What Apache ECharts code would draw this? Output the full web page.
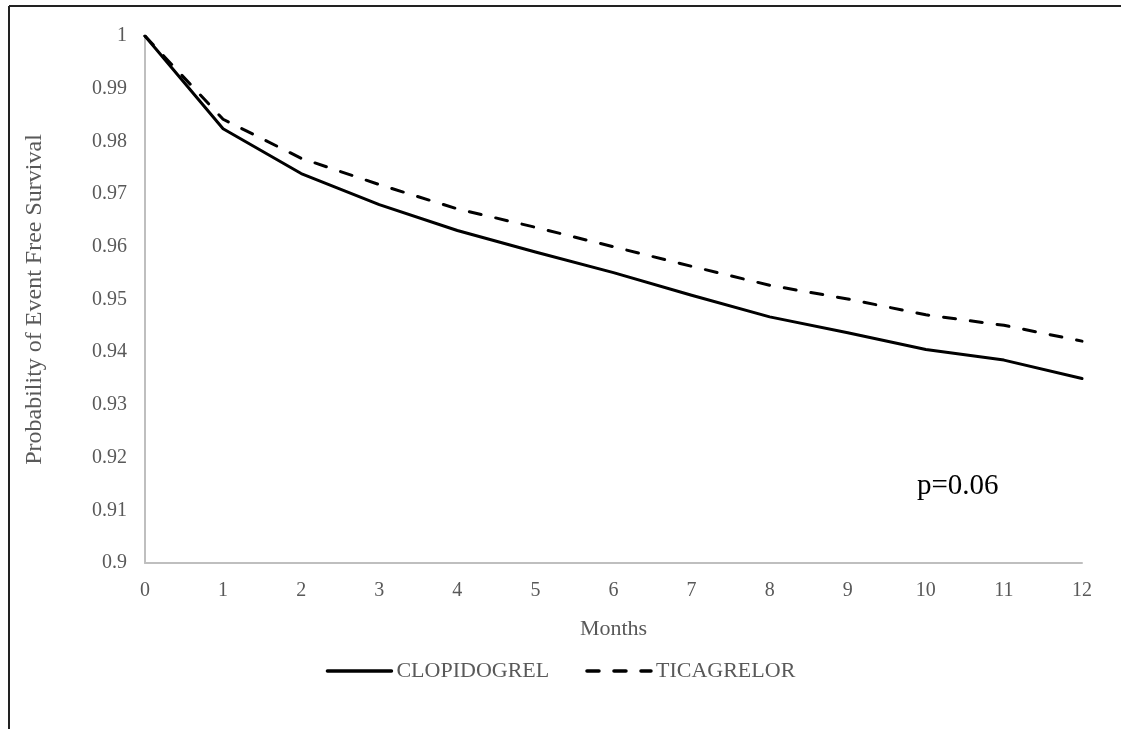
<!DOCTYPE html>
<html>
<head>
<meta charset="utf-8">
<script src="https://cdn.jsdelivr.net/npm/echarts@6/dist/echarts.min.js"></script>
<style>
html,body{margin:0;padding:0;background:#fff;}
#chart{width:1121px;height:729px;}
</style>
</head>
<body>
<div id="chart"></div>
<script>
const months = ['0','1','2','3','4','5','6','7','8','9','10','11','12'];
const clopidogrel = [1.0, 0.9824, 0.9739, 0.9680, 0.9631, 0.9590, 0.9551, 0.9508, 0.9467, 0.9437, 0.9405, 0.9385, 0.9350];
const ticagrelor  = [1.0, 0.9842, 0.9768, 0.9718, 0.9672, 0.9637, 0.9600, 0.9563, 0.9527, 0.9501, 0.9471, 0.9451, 0.9421];
const yTicks = {min: 0.9, max: 1.0, interval: 0.01};
const pText = 'p=0.06';

const font = '"Liberation Serif", "Times New Roman", serif';
const chart = echarts.init(document.getElementById('chart'), null, {renderer: 'canvas'});
chart.setOption({
  backgroundColor: '#fff',
  animation: false,
  grid: {left: 145, right: 39, top: 36, bottom: 166, containLabel: false},
  xAxis: {
    type: 'category',
    data: months,
    boundaryGap: false,
    name: 'Months',
    nameLocation: 'middle',
    nameGap: 55,
    nameTextStyle: {fontFamily: font, fontSize: 22, color: '#595959'},
    axisLine: {lineStyle: {color: '#bfbfbf', width: 2}},
    axisTick: {show: false},
    axisLabel: {fontFamily: font, fontSize: 20, color: '#595959', margin: 18},
    splitLine: {show: false}
  },
  yAxis: {
    type: 'value',
    min: yTicks.min, max: yTicks.max, interval: yTicks.interval,
    name: 'Probability of Event Free Survival',
    nameLocation: 'middle',
    nameGap: 98,
    nameTextStyle: {fontFamily: font, fontSize: 24, color: '#595959'},
    axisLine: {show: true, lineStyle: {color: '#bfbfbf', width: 2}},
    axisTick: {show: false},
    axisLabel: {fontFamily: font, fontSize: 20, color: '#595959', margin: 18,
      formatter: v => String(parseFloat(v.toFixed(2)))},
    splitLine: {show: false}
  },
  legend: {
    top: 655,
    left: 'center',
    itemWidth: 64,
    itemHeight: 14,
    itemGap: 36,
    itemStyle: {opacity: 0},
    lineStyle: {width: 3.5},
    textStyle: {fontFamily: font, fontSize: 22, color: '#595959'},
    data: ['CLOPIDOGREL', 'TICAGRELOR']
  },
  series: [
    {
      name: 'CLOPIDOGREL', type: 'line', data: clopidogrel,
      symbol: 'none', color: '#000',
      lineStyle: {color: '#000', width: 3, cap: 'round', join: 'round'}
    },
    {
      name: 'TICAGRELOR', type: 'line', data: ticagrelor,
      symbol: 'none', color: '#000',
      lineStyle: {color: '#000', width: 3, type: [12, 15], cap: 'round', join: 'round'}
    }
  ],
  graphic: [
    {type: 'line', shape: {x1: 9, y1: 6, x2: 1121, y2: 6}, style: {stroke: '#222', lineWidth: 2}},
    {type: 'line', shape: {x1: 9, y1: 6, x2: 9, y2: 729}, style: {stroke: '#222', lineWidth: 2}},
    {type: 'text', left: 917, top: 472, style: {text: pText, font: '29px "Liberation Serif", serif', fill: '#000'}}
  ]
});
</script>
</body>
</html>
